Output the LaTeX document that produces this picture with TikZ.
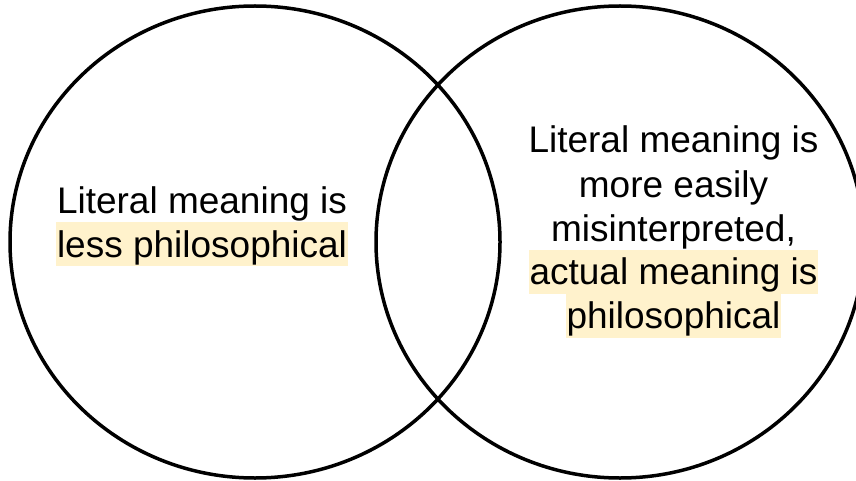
\documentclass[tikz,border=0pt]{standalone}
\usepackage{fontspec}
\setmainfont{Liberation Sans}
\definecolor{hlyellow}{HTML}{FFF2CC}
\tikzset{
  ring/.style={draw=black, line width=3.5pt},
  txtline/.style={anchor=base, inner sep=0pt, inner xsep=1pt, text height=35pt, text depth=9pt,
    font=\fontsize{37}{44}\selectfont},
  hiline/.style={txtline, fill=hlyellow}
}
\begin{document}
\begin{tikzpicture}[x=1pt, y=-1pt]
\useasboundingbox (0,0) rectangle (856,481);
\fill[white] (0,0) rectangle (856,481);
\begin{scope}
\clip (0,0) rectangle (856,481);
% left text
\node[txtline] (l1) at (202,213) {Literal meaning is};
\node[hiline] (l2) at (202,257) {less philosophical};
% right text
\node[txtline] (r1) at (673.5,153) {Literal meaning is};
\node[txtline] (r2) at (673.5,197) {more easily};
\node[txtline] (r3) at (673.5,241) {misinterpreted,};
\node[hiline] (r4) at (673.5,284.5) {actual meaning is};
\node[hiline] (r5) at (673.5,328.5) {philosophical};
% circles
\draw[ring] (255,242) ellipse [x radius=245, y radius=236];
\draw[ring] (620,242) ellipse [x radius=244, y radius=236];
\end{scope}
\end{tikzpicture}
\end{document}
